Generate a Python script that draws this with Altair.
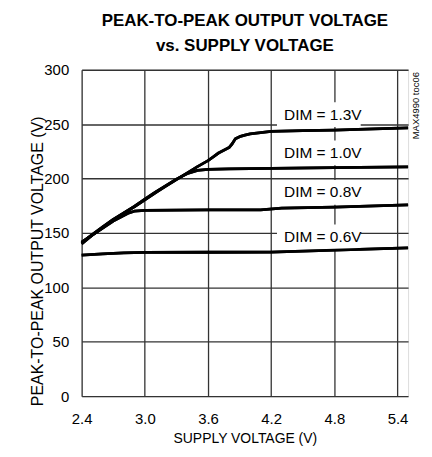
import altair as alt
import pandas as pd

# ---- data ----
x_13 = [2.4, 2.5, 2.6, 2.7, 2.8, 2.9, 3.0, 3.1, 3.2, 3.3, 3.4, 3.5, 3.6, 3.65, 3.7, 3.75, 3.8, 3.83, 3.86, 3.9, 3.95, 4.0, 4.1, 4.2, 4.5, 4.8, 5.1, 5.5]
y_13 = [140, 148, 155, 162, 168, 174, 180.5, 187, 193, 199, 205, 211, 216.5, 220, 223.5, 226, 228.5, 232, 236.5, 238.5, 240, 241, 242.3, 243.3, 244, 244.5, 245.5, 246.5]

x_10 = [2.4, 2.5, 2.6, 2.7, 2.8, 2.9, 3.0, 3.1, 3.2, 3.3, 3.4, 3.5, 3.6, 3.8, 4.2, 4.8, 5.5]
y_10 = [141, 148.5, 155.5, 162.5, 168.5, 174.5, 181, 187.5, 193.5, 199.5, 204.5, 207.5, 208.5, 209, 209.3, 210, 210.8]

x_08 = [2.4, 2.5, 2.6, 2.7, 2.8, 2.85, 2.9, 3.0, 3.6, 4.1, 4.3, 4.8, 5.5]
y_08 = [141.5, 148, 154.5, 161, 166, 168.5, 170, 170.8, 171.3, 171.2, 172.8, 173.8, 175.8]

x_06 = [2.4, 2.6, 2.8, 3.0, 3.6, 4.2, 4.8, 5.5]
y_06 = [129.7, 130.8, 131.8, 132.2, 132.3, 132.5, 134.2, 136.4]

label_text = ["DIM = 1.3V", "DIM = 1.0V", "DIM = 0.8V", "DIM = 0.6V"]
label_x = [4.69, 4.69, 4.69, 4.69]
label_y = [258.8, 223.6, 187.3, 146.4]
box_x0 = [4.255, 4.255, 4.255, 4.255]
box_x1 = [5.05, 5.05, 5.05, 5.05]
box_half = 11.4

x_ticks = [2.4, 3.0, 3.6, 4.2, 4.8, 5.4]
y_ticks = [0, 50, 100, 150, 200, 250, 300]

note_text = ["MAX4990 toc06"]
note_x = [5.58]
note_y = [267]

FONT = "Liberation Sans, Arial, sans-serif"

rows = []
for name, xs, ys in [("1.3", x_13, y_13), ("1.0", x_10, y_10), ("0.8", x_08, y_08), ("0.6", x_06, y_06)]:
    for i, (a, b) in enumerate(zip(xs, ys)):
        rows.append({"series": name, "order": i, "v": a, "p": b})
curves = pd.DataFrame(rows)

labels = pd.DataFrame({
    "text": label_text, "x": label_x, "y": label_y,
    "x0": box_x0, "x1": box_x1,
    "y0": [v - box_half for v in label_y], "y1": [v + box_half for v in label_y],
})
note = pd.DataFrame({"text": note_text, "x": note_x, "y": note_y})

xscale = alt.Scale(domain=[2.4, 5.5], nice=False, zero=False)
yscale = alt.Scale(domain=[0, 300], nice=False)

xaxis = alt.Axis(values=x_ticks, format=".1f", grid=True, gridColor="#333", gridWidth=1.3,
                 ticks=False, tickSize=0, domain=False, labelPadding=15, labelFontSize=15,
                 labelFont=FONT, labelColor="black", title="SUPPLY VOLTAGE (V)",
                 titleFont=FONT, titleFontSize=14, titleFontWeight="normal", titleColor="black",
                 titleBaseline="alphabetic", titleY=47, labelFlush=False)
yaxis = alt.Axis(values=y_ticks, grid=True, gridColor="#333", gridWidth=1.3,
                 ticks=False, tickSize=0, domain=False, labelPadding=13, labelFontSize=15,
                 labelFont=FONT, labelColor="black", title="PEAK-TO-PEAK OUTPUT VOLTAGE (V)",
                 titleFont=FONT, titleFontSize=16, titleFontWeight="normal", titleColor="black",
                 titleAngle=270, titleBaseline="alphabetic", titleX=-39.5, titleY=192, labelFlush=False)

base_lines = alt.Chart(curves).mark_line(color="black", strokeWidth=2.8, strokeJoin="round").encode(
    x=alt.X("v:Q", scale=xscale, axis=xaxis),
    y=alt.Y("p:Q", scale=yscale, axis=yaxis),
    detail="series:N",
    order="order:Q",
)

boxes = alt.Chart(labels).mark_rect(color="white").encode(
    x=alt.X("x0:Q", scale=xscale), x2="x1:Q",
    y=alt.Y("y0:Q", scale=yscale), y2="y1:Q",
)

texts = alt.Chart(labels).mark_text(font=FONT, fontSize=15.5, color="black",
                                    align="center", baseline="middle").encode(
    x=alt.X("x:Q", scale=xscale), y=alt.Y("y:Q", scale=yscale), text="text:N"
)

note_mark = alt.Chart(note).mark_text(font=FONT, fontSize=9.5, color="black", angle=270,
                                      align="center", baseline="middle").encode(
    x=alt.X("x:Q", scale=xscale), y=alt.Y("y:Q", scale=yscale), text="text:N"
)

chart = alt.layer(base_lines, boxes, texts, base_lines, note_mark).properties(
    width=328, height=328,
    autosize=alt.AutoSizeParams(type="none"),
    padding={"left": 74, "top": 61, "right": 16, "bottom": 52},
    title=alt.TitleParams(text=["PEAK-TO-PEAK OUTPUT VOLTAGE", "vs. SUPPLY VOLTAGE"],
                          font=FONT, fontSize=17, fontWeight="bold", color="black",
                          anchor="middle", baseline="alphabetic", lineHeight=25, offset=-5),
).configure_view(stroke="black", strokeWidth=3).configure(background="white")

chart.save("out.html", embed_options={"renderer": "svg", "actions": False})
